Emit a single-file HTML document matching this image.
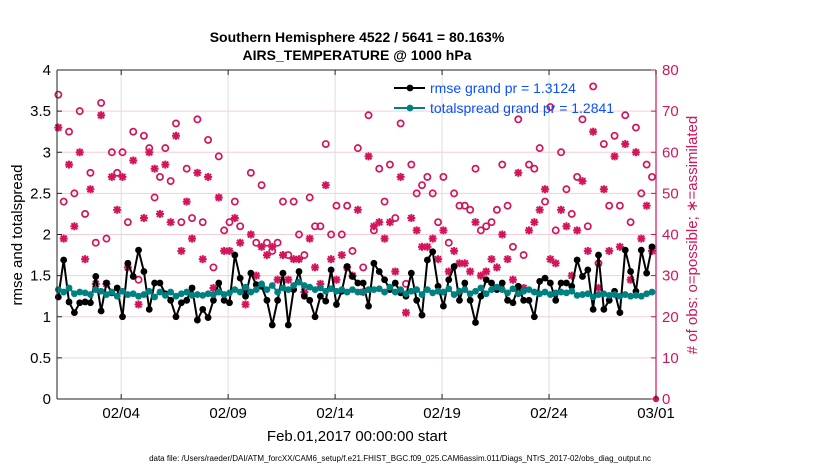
<!DOCTYPE html>
<html><head><meta charset="utf-8"><style>
body{margin:0;background:#fff;}
svg{display:block;font-family:"Liberation Sans",Arial,sans-serif;}
</style></head><body>
<svg id="chart" width="830" height="470" viewBox="0 0 830 470" xmlns="http://www.w3.org/2000/svg">
<text x="357" y="42" text-anchor="middle" font-size="14" font-weight="bold">Southern Hemisphere 4522 / 5641 = 80.163%</text>
<text x="357" y="60" text-anchor="middle" font-size="14" font-weight="bold">AIRS_TEMPERATURE @ 1000 hPa</text>
<g id="grid"></g>
<g id="marks"></g>
<g id="axes"></g>
<text transform="translate(22,235) rotate(-90)" text-anchor="middle" font-size="15">rmse and totalspread</text>
<text transform="translate(697,235) rotate(-90)" text-anchor="middle" font-size="15" fill="#d4145a">#  of obs: o=possible; ∗=assimilated</text>
<text x="357" y="441" text-anchor="middle" font-size="15">Feb.01,2017 00:00:00 start</text>
<text x="400" y="461" text-anchor="middle" font-size="8">data file: /Users/raeder/DAI/ATM_forcXX/CAM6_setup/f.e21.FHIST_BGC.f09_025.CAM6assim.011/Diags_NTrS_2017-02/obs_diag_output.nc</text>
<g>
<line x1="394" y1="88" x2="425" y2="88" stroke="#000" stroke-width="2"/><circle cx="410" cy="88" r="3.4" fill="#000"/>
<text x="430" y="93" font-size="14" fill="#0a50ff">rmse grand pr = 1.3124</text>
<line x1="394" y1="108" x2="425" y2="108" stroke="#008080" stroke-width="2"/><circle cx="410" cy="108" r="3.4" fill="#008080"/>
<text x="430" y="113" font-size="14" fill="#0a50ff">totalspread grand pr = 1.2841</text>
</g>
</svg>
<script>
const possible=[74,48,65,50,70,45,55,38,72,39,60,55,60,43,65,29,64,61,49,
54,61,53,67,43,56,44,68,43,63,32,59,41,43,48,42,27,55,38,
52,38,36,38,48,35,48,40,35,49,42,42,62,40,47,40,47,36,61,
32,69,41,56,48,57,44,67,28,57,50,52,54,50,43,54,38,50,47,
47,46,56,41,42,43,46,57,47,37,68,35,57,56,61,48,71,41,
60,51,45,54,68,42,76,33,62,47,64,47,69,43,66,50,57,54];
const assimilated=[66,39,57,42,60,34,51,28,69,28,54,46,54,32,58,23,44,60,56,
45,57,43,64,36,48,39,55,34,54,27,49,36,36,44,38,23,40,30,
37,35,37,29,35,29,34,34,26,39,32,28,52,34,29,35,32,30,46,
26,59,42,43,39,43,31,54,21,44,41,37,37,39,34,41,31,36,33,
33,31,43,30,31,34,32,40,34,29,55,27,41,43,46,51,34,33,
46,42,30,41,53,36,65,27,51,36,59,37,62,29,60,39,47,36];
const rmse=[1.24,1.69,1.18,1.05,1.17,1.18,1.17,1.49,1.07,1.41,1.29,1.35,1.0,1.65,1.49,1.81,1.55,1.09,1.41,
1.41,1.28,1.2,1.0,1.17,1.2,1.35,0.96,1.09,0.99,1.2,1.41,1.2,1.17,1.75,1.47,1.25,1.53,1.39,
1.37,1.2,0.9,1.2,1.53,0.9,1.33,1.55,1.25,1.2,1.0,1.25,1.19,1.57,1.15,1.31,1.61,1.49,1.41,
1.41,1.13,1.65,1.55,1.45,1.33,1.41,1.29,1.25,1.53,1.2,1.02,1.69,1.79,1.37,1.13,1.45,1.61,1.2,
1.41,1.2,0.93,1.25,1.45,1.41,1.33,1.41,1.2,1.17,1.37,1.2,1.2,1.0,1.43,1.47,1.41,1.2,
1.41,1.41,1.37,1.69,1.49,1.57,1.09,1.75,1.09,1.2,1.31,1.05,1.81,1.55,1.31,1.81,1.53,1.85];
const spread=[1.33,1.3,1.35,1.28,1.3,1.29,1.27,1.33,1.31,1.27,1.3,1.25,1.31,1.27,1.28,1.25,1.27,1.31,1.24,
1.3,1.26,1.3,1.25,1.28,1.3,1.26,1.27,1.26,1.28,1.27,1.3,1.27,1.29,1.33,1.3,1.36,1.3,1.33,
1.4,1.33,1.38,1.3,1.35,1.33,1.38,1.42,1.38,1.36,1.33,1.35,1.31,1.34,1.31,1.33,1.3,1.33,1.3,
1.3,1.33,1.33,1.34,1.3,1.36,1.3,1.33,1.28,1.31,1.33,1.27,1.33,1.29,1.31,1.3,1.34,1.27,1.31,
1.33,1.28,1.31,1.35,1.28,1.33,1.36,1.33,1.29,1.34,1.28,1.31,1.33,1.3,1.28,1.3,1.27,1.29,
1.3,1.29,1.31,1.26,1.27,1.28,1.24,1.27,1.28,1.26,1.27,1.25,1.27,1.25,1.26,1.25,1.28,1.3];
const leftTicks=[0,0.5,1,1.5,2,2.5,3,3.5,4];
const rightTicks=[0,10,20,30,40,50,60,70,80];
const xTickDays=[3,8,13,18,23,28];
const xTickLabels=['02/04','02/09','02/14','02/19','02/24','03/01'];

const L=57,R=656,T=70,B=399,DAYS=28,CR='#d4145a',NS='http://www.w3.org/2000/svg';
const xs=d=>L+(R-L)*d/DAYS;
const yl=v=>B-(B-T)*v/4;
const yr=v=>B-(B-T)*v/80;
const dayOf=i=>0.0625+0.25*i;
function mk(p,tag,a){const e=document.createElementNS(NS,tag);for(const k in a)e.setAttribute(k,a[k]);p.appendChild(e);return e;}
const grid=document.getElementById('grid'),marks=document.getElementById('marks'),axes=document.getElementById('axes');
rightTicks.forEach(v=>{if(v>0&&v<80){const g=mk(grid,'line',{x1:L,x2:R,y1:yr(v),y2:yr(v),stroke:'#f4cddc','stroke-width':1});

}});
xTickDays.forEach(d=>{if(d<DAYS){const g=mk(grid,'line',{x1:xs(d),x2:xs(d),y1:T,y2:B,stroke:'#dedede','stroke-width':1});

}});
possible.forEach((v,i)=>{const c=mk(marks,'circle',{cx:xs(dayOf(i)),cy:yr(v),r:3.1,fill:'none',stroke:CR,'stroke-width':1.7});

});
assimilated.forEach((v,i)=>{const x=xs(dayOf(i)),y=yr(v),g=mk(marks,'g',{stroke:CR,'stroke-width':2});


mk(g,'line',{x1:x-4,x2:x+4,y1:y,y2:y});mk(g,'line',{x1:x,x2:x,y1:y-4,y2:y+4});
mk(g,'line',{x1:x-3,x2:x+3,y1:y-3,y2:y+3});mk(g,'line',{x1:x-3,x2:x+3,y1:y+3,y2:y-3});});
function series(arr,col,name){
 const pl=mk(marks,'polyline',{points:arr.map((v,i)=>xs(dayOf(i))+','+yl(v)).join(' '),fill:'none',stroke:col,'stroke-width':2});
 
 
 arr.forEach((v,i)=>{const c=mk(marks,'circle',{cx:xs(dayOf(i)),cy:yl(v),r:3.4,fill:col});
 
 });
}
series(rmse,'#000','rmse');
series(spread,'#008080','totalspread');
const z=mk(marks,'circle',{cx:R,cy:B,r:3.2,fill:CR});


mk(axes,'line',{x1:L,x2:R,y1:T,y2:T,stroke:'#222','stroke-width':1});
mk(axes,'line',{x1:L,x2:R,y1:B,y2:B,stroke:'#222','stroke-width':1});
mk(axes,'line',{x1:L,x2:L,y1:T,y2:B,stroke:'#222','stroke-width':1});
mk(axes,'line',{x1:R,x2:R,y1:T,y2:B,stroke:CR,'stroke-width':1.2});
leftTicks.forEach(v=>{mk(axes,'line',{x1:L,x2:L+5,y1:yl(v),y2:yl(v),stroke:'#222'});
 const t=mk(axes,'text',{x:L-6,y:yl(v)+5,'text-anchor':'end','font-size':15});t.textContent=v;
 
 });
rightTicks.forEach(v=>{mk(axes,'line',{x1:R-5,x2:R,y1:yr(v),y2:yr(v),stroke:CR});
 const t=mk(axes,'text',{x:R+6,y:yr(v)+5,'font-size':15,fill:CR});t.textContent=v;
 
 });
xTickDays.forEach((d,i)=>{mk(axes,'line',{x1:xs(d),x2:xs(d),y1:B,y2:B-5,stroke:'#222'});mk(axes,'line',{x1:xs(d),x2:xs(d),y1:T,y2:T+5,stroke:'#222'});
 const t=mk(axes,'text',{x:xs(d),y:B+19,'text-anchor':'middle','font-size':15});t.textContent=xTickLabels[i];
 
 });
</script>
</body></html>
